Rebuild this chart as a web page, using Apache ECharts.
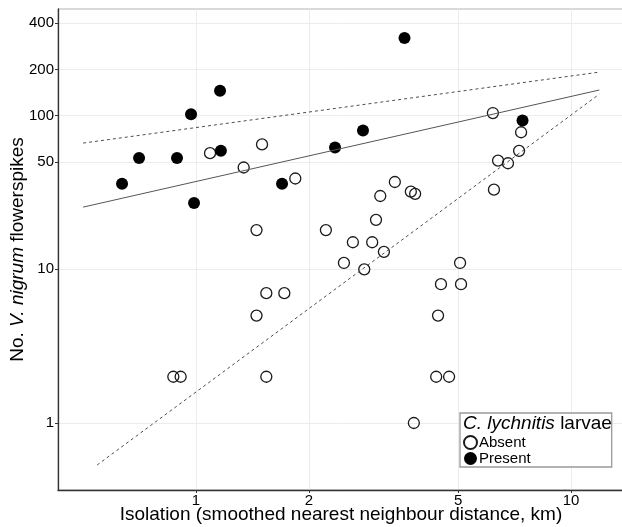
<!DOCTYPE html>
<html>
<head>
<meta charset="utf-8">
<script src="https://cdn.jsdelivr.net/npm/echarts@6.0.0/dist/echarts.min.js"></script>
<style>
html, body { margin: 0; padding: 0; background: #fff; }
#chart { width: 622px; height: 527px; }
</style>
</head>
<body>
<div id="chart"></div>
<script>
// isolation (km) and number of flowerspikes
var absentX = [1.09, 1.50, 1.34, 1.84, 1.45, 2.22, 2.48, 1.54, 1.72, 1.45, 0.87, 0.91, 1.54,
  3.39, 3.74, 3.84, 3.10, 3.02, 2.62, 2.95, 3.17, 2.81, 5.06, 4.50, 5.09, 4.42, 4.37, 4.73,
  3.81, 6.19, 7.36, 7.27, 6.39, 6.79, 6.23];
var absentY = [57, 65, 46, 39, 18, 18, 11, 7, 7, 5, 2, 2, 2,
  37, 32, 31, 30, 21, 15, 15, 13, 10, 11, 8, 8, 5, 2, 2,
  1, 104, 78, 59, 51, 49, 33];

var presentX = [0.635, 0.705, 0.89, 0.97, 0.988, 1.159, 1.165, 1.696, 2.348, 2.788, 3.597, 7.425];
var presentY = [36, 53, 53, 102, 27, 145, 59, 36, 62, 80, 320, 93];

// fitted line and bounds (end points)
var fitX = [0.5, 11.9];
var fitY = [25.4, 146.8];
var upperX = [0.5, 11.9];
var upperY = [66.3, 192];
var lowerX = [0.545, 11.9];
var lowerY = [0.533, 138];

var xTicks = [1, 2, 5, 10];
var yTicks = [1, 10, 50, 100, 200, 400];

var FONT = "'Liberation Sans', Arial, sans-serif";

function toLog(xs, ys) {
  return xs.map(function (x, i) { return [Math.log10(x), Math.log10(ys[i])]; });
}
function tickLabel(ticks) {
  return function (v) {
    for (var i = 0; i < ticks.length; i++) {
      if (Math.abs(Math.log10(ticks[i]) - v) < 1e-6) return String(ticks[i]);
    }
    return '';
  };
}

var myChart = echarts.init(document.getElementById('chart'));

var dashLine = { color: '#4d4d4d', width: 1, type: [3, 3] };

var option = {
  animation: false,
  grid: {
    left: 58, right: -2, top: 9, bottom: 37,
    outerBoundsMode: 'none',
    containLabel: false,
    show: true, borderColor: '#b3b3b3', borderWidth: 1
  },
  xAxis: {
    type: 'value',
    min: -0.368,
    max: 1.1413,
    name: 'Isolation (smoothed nearest neighbour distance, km)',
    nameLocation: 'middle',
    nameGap: 15,
    nameMoveOverlap: false,
    nameTextStyle: { fontSize: 19, fontFamily: FONT, color: '#000' },
    axisLine: { onZero: false, lineStyle: { color: '#333', width: 1.3 } },
    axisTick: { show: true, length: 3, lineStyle: { color: '#333' }, customValues: xTicks.map(Math.log10) },
    axisLabel: {
      customValues: xTicks.map(Math.log10),
      formatter: tickLabel(xTicks),
      fontSize: 15, fontFamily: FONT, color: '#000', margin: 3
    },
    splitLine: { show: true, lineStyle: { color: '#ececec', width: 1 } }
  },
  yAxis: {
    type: 'value',
    min: -0.436,
    max: 2.694,
    name: '{n|No. }{i|V. nigrum}{n| flowerspikes}',
    nameLocation: 'middle',
    nameGap: 31,
    nameMoveOverlap: false,
    nameTextStyle: {
      fontSize: 19, fontFamily: FONT, color: '#000',
      rich: {
        n: { fontSize: 19, fontFamily: FONT, color: '#000' },
        i: { fontSize: 19, fontFamily: FONT, color: '#000', fontStyle: 'italic' }
      }
    },
    axisLine: { onZero: false, lineStyle: { color: '#333', width: 1.3 } },
    axisTick: { show: true, length: 3, lineStyle: { color: '#333' }, customValues: yTicks.map(Math.log10) },
    axisLabel: {
      customValues: yTicks.map(Math.log10),
      formatter: tickLabel(yTicks),
      fontSize: 15, fontFamily: FONT, color: '#000', margin: 4
    },
    splitLine: { show: true, lineStyle: { color: '#ececec', width: 1 } }
  },
  legend: {
    data: ['Absent', 'Present'],
    orient: 'vertical',
    left: 460,
    top: 413,
    padding: [22, 81, 1, 3],
    itemGap: 1,
    itemWidth: 13,
    itemHeight: 13,
    backgroundColor: '#fff',
    borderColor: '#999',
    borderWidth: 1.3,
    textStyle: { fontSize: 15, fontFamily: FONT, color: '#000', padding: [0, 0, 0, -3] }
  },
  graphic: [{
    type: 'text',
    left: 463,
    top: 414,
    z: 100,
    style: {
      text: '{i|C. lychnitis}{n| larvae}',
      rich: {
        i: { fontSize: 19, fontFamily: FONT, fill: '#000', fontStyle: 'italic' },
        n: { fontSize: 19, fontFamily: FONT, fill: '#000' }
      }
    }
  }],
  series: [
    {
      name: 'fit', type: 'line', data: toLog(fitX, fitY), showSymbol: false, silent: true,
      lineStyle: { color: '#555', width: 1 }
    },
    {
      name: 'upper', type: 'line', data: toLog(upperX, upperY), showSymbol: false, silent: true,
      lineStyle: dashLine
    },
    {
      name: 'lower', type: 'line', data: toLog(lowerX, lowerY), showSymbol: false, silent: true,
      lineStyle: dashLine
    },
    {
      name: 'Absent', type: 'scatter', data: toLog(absentX, absentY), symbolSize: 11,
      itemStyle: { color: 'rgba(0,0,0,0)', borderColor: '#1a1a1a', borderWidth: 1.3, opacity: 1 }
    },
    {
      name: 'Present', type: 'scatter', data: toLog(presentX, presentY), symbolSize: 12,
      itemStyle: { color: '#000', opacity: 1 }
    }
  ]
};

myChart.setOption(option);
</script>
</body>
</html>
